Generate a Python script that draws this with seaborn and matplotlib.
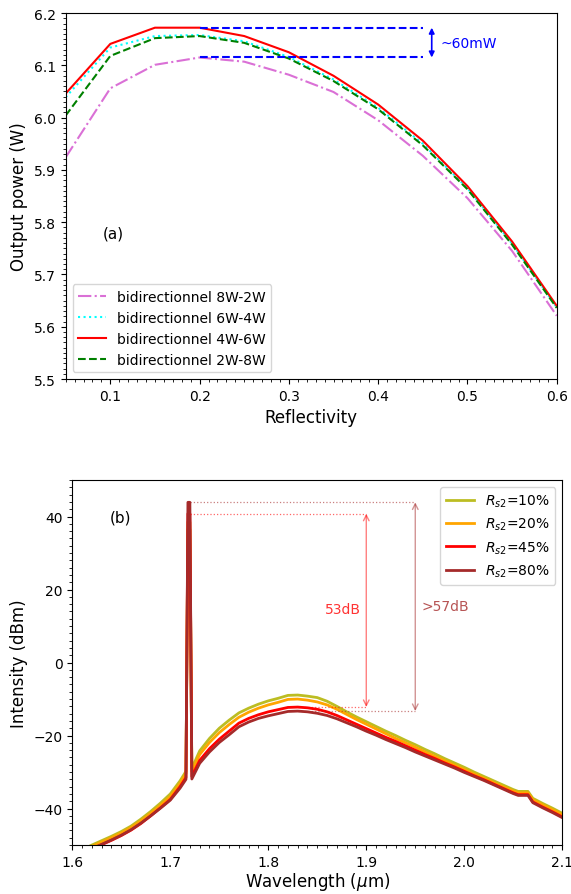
import numpy as np
import pandas as pd
import matplotlib
matplotlib.use("Agg")
import matplotlib.pyplot as plt
from matplotlib.ticker import MultipleLocator
import seaborn as sns

# ---------------- (a) output power vs reflectivity ----------------
reflectivity = [0.05, 0.10, 0.15, 0.20, 0.25, 0.30, 0.35, 0.40, 0.45, 0.50, 0.55, 0.60]
power_8w_2w = [5.924, 6.056, 6.101, 6.115, 6.107, 6.082, 6.049, 5.995, 5.927, 5.846, 5.745, 5.621]
power_6w_4w = [6.039, 6.134, 6.156, 6.158, 6.146, 6.116, 6.073, 6.019, 5.950, 5.865, 5.759, 5.637]
power_4w_6w = [6.046, 6.141, 6.172, 6.172, 6.156, 6.125, 6.080, 6.025, 5.956, 5.869, 5.763, 5.640]
power_2w_8w = [6.004, 6.118, 6.152, 6.156, 6.143, 6.113, 6.070, 6.016, 5.947, 5.863, 5.757, 5.636]
labels_a = ["bidirectionnel 8W-2W", "bidirectionnel 6W-4W",
            "bidirectionnel 4W-6W", "bidirectionnel 2W-8W"]

# ---------------- (b) optical spectra ----------------
wavelength = [1.61, 1.62, 1.63, 1.64, 1.65, 1.66, 1.67, 1.68, 1.69, 1.70, 1.71,
              1.716, 1.718, 1.720, 1.722,
              1.73, 1.74, 1.75, 1.76, 1.77, 1.78, 1.79, 1.80, 1.81, 1.82, 1.83,
              1.84, 1.85, 1.86, 1.87, 1.88, 1.89, 1.90, 1.91, 1.92, 1.93, 1.94,
              1.95, 1.96, 1.97, 1.98, 1.99, 2.00, 2.01, 2.02, 2.03, 2.04, 2.05,
              2.055, 2.065, 2.07, 2.08, 2.09, 2.10]
spec_10 = [-51.3, -50.0, -48.8, -47.6, -46.3, -44.8, -42.9, -40.8, -38.5, -36.0, -32.4,
           -29.8, 36.5, 36.5, -29.0,
           -24.2, -20.8, -18.0, -15.8, -13.8, -12.5, -11.4, -10.5, -9.8, -9.0, -8.9,
           -9.2, -9.6, -10.6, -12.0, -13.5, -14.9, -16.2, -17.5, -18.8, -20.0, -21.3,
           -22.5, -23.8, -25.0, -26.3, -27.5, -28.7, -30.0, -31.2, -32.4, -33.6, -34.8,
           -35.3, -35.3, -37.2, -38.6, -39.9, -41.3]
spec_20 = [-51.6, -50.4, -49.2, -48.0, -46.7, -45.2, -43.4, -41.3, -39.1, -36.7, -33.1,
           -30.4, 38.5, 38.5, -29.8,
           -25.2, -21.9, -19.2, -17.0, -15.0, -13.6, -12.5, -11.6, -10.9, -10.1, -10.0,
           -10.3, -10.8, -11.6, -12.8, -14.2, -15.6, -16.9, -18.2, -19.5, -20.8, -22.0,
           -23.2, -24.5, -25.7, -26.9, -28.1, -29.3, -30.5, -31.7, -32.9, -34.1, -35.2,
           -35.7, -35.7, -37.6, -39.0, -40.3, -41.7]
spec_45 = [-52.4, -51.1, -49.9, -48.7, -47.4, -45.9, -44.1, -42.0, -39.8, -37.5, -34.0,
           -31.5, 40.8, 40.8, -31.2,
           -26.8, -23.6, -21.0, -18.8, -16.6, -15.3, -14.3, -13.5, -12.9, -12.3, -12.2,
           -12.4, -12.8, -13.5, -14.5, -15.7, -16.9, -18.1, -19.3, -20.5, -21.6, -22.8,
           -24.0, -25.2, -26.3, -27.5, -28.6, -29.8, -31.0, -32.1, -33.3, -34.5, -35.7,
           -36.2, -36.2, -38.2, -39.6, -40.9, -42.3]
spec_80 = [-52.3, -51.0, -49.8, -48.6, -47.3, -45.8, -44.0, -42.0, -39.9, -37.7, -34.4,
           -32.0, 43.9, 43.9, -31.9,
           -27.6, -24.5, -21.9, -19.8, -17.6, -16.3, -15.3, -14.6, -14.0, -13.4, -13.3,
           -13.5, -13.9, -14.5, -15.4, -16.5, -17.6, -18.8, -19.9, -21.1, -22.2, -23.3,
           -24.5, -25.6, -26.7, -27.8, -28.9, -30.1, -31.2, -32.3, -33.5, -34.7, -35.9,
           -36.4, -36.4, -38.4, -39.8, -41.1, -42.5]
labels_b = [r"$R_{s2}$=10%", r"$R_{s2}$=20%", r"$R_{s2}$=45%", r"$R_{s2}$=80%"]

fig = plt.figure(figsize=(5.71, 8.95), dpi=100)
ax1 = fig.add_axes([0.115, 0.5754, 0.860, 0.4089])
ax2 = fig.add_axes([0.1266, 0.0547, 0.8581, 0.4078])

# ---- panel (a)
styles_a = [("orchid", "-."), ("cyan", ":"), ("red", "-"), ("green", "--")]
for vals, lab, (col, ls) in zip([power_8w_2w, power_6w_4w, power_4w_6w, power_2w_8w],
                                labels_a, styles_a):
    sns.lineplot(x=reflectivity, y=vals, ax=ax1, color=col, linestyle=ls,
                 lw=1.5, label=lab, estimator=None)

# spread between the best and the worst pumping configuration
top_level = max(power_4w_6w)
low_level = max(power_8w_2w)
ax1.hlines([top_level, low_level], 0.2, 0.45, colors="blue", linestyles="--", lw=1.5)
ax1.annotate("", xy=(0.46, top_level), xytext=(0.46, low_level),
             arrowprops=dict(arrowstyle="<|-|>", color="blue", lw=1.2,
                             mutation_scale=8, shrinkA=0, shrinkB=0))
ax1.text(0.47, (top_level + low_level) / 2,
         "~%dmW" % round((top_level - low_level) * 1000, -1),
         color="blue", va="center", ha="left", fontsize=10)
ax1.text(0.092, 5.78, "(a)", fontsize=11, va="center", ha="left")

ax1.set_xlim(0.05, 0.6)
ax1.set_ylim(5.5, 6.2)
ax1.xaxis.set_major_locator(MultipleLocator(0.1))
ax1.xaxis.set_minor_locator(MultipleLocator(0.01))
ax1.yaxis.set_major_locator(MultipleLocator(0.1))
ax1.yaxis.set_minor_locator(MultipleLocator(0.01))
ax1.set_xlabel("Reflectivity", fontsize=12)
ax1.set_ylabel("Output power (W)", fontsize=12)
ax1.legend(loc="lower left", fontsize=10)

# ---- panel (b)
colors_b = ["tab:olive", "orange", "red", "brown"]
for vals, lab, col in zip([spec_10, spec_20, spec_45, spec_80], labels_b, colors_b):
    sns.lineplot(x=wavelength, y=vals, ax=ax2, color=col, lw=2,
                 label=lab, estimator=None)

spike_x = 1.72
red_top, red_floor = max(spec_45), max(v for v in spec_45 if v < 0)
brn_top, brn_floor = max(spec_80), max(v for v in spec_80 if v < 0)

ax2.hlines(red_top, spike_x, 1.90, colors="red", linestyles=":", lw=0.9, alpha=0.6)
ax2.hlines(brn_top, spike_x, 1.95, colors="brown", linestyles=":", lw=0.9, alpha=0.6)
ax2.hlines(red_floor, 1.83, 1.90, colors="red", linestyles=":", lw=0.9, alpha=0.6)
ax2.hlines(brn_floor, 1.83, 1.95, colors="brown", linestyles=":", lw=0.9, alpha=0.6)
ax2.annotate("", xy=(1.90, red_top), xytext=(1.90, red_floor),
             arrowprops=dict(arrowstyle="<->", color="red", alpha=0.5, lw=1,
                             shrinkA=0, shrinkB=0))
ax2.annotate("", xy=(1.95, brn_top), xytext=(1.95, brn_floor),
             arrowprops=dict(arrowstyle="<->", color="brown", alpha=0.5, lw=1,
                             shrinkA=0, shrinkB=0))
ax2.text(1.895, 14.7, "%.0fdB" % (red_top - red_floor), color="red", alpha=0.8,
         ha="right", va="center", fontsize=10)
ax2.text(1.956, 15.6, ">%.0fdB" % (brn_top - brn_floor), color="brown", alpha=0.8,
         ha="left", va="center", fontsize=10)
ax2.text(1.638, 40, "(b)", fontsize=11, va="center", ha="left")

ax2.set_xlim(1.6, 2.1)
ax2.set_ylim(-50, 50)
ax2.xaxis.set_major_locator(MultipleLocator(0.1))
ax2.xaxis.set_minor_locator(MultipleLocator(0.01))
ax2.yaxis.set_major_locator(MultipleLocator(20))
ax2.yaxis.set_minor_locator(MultipleLocator(2))
ax2.set_xlabel(r"Wavelength ($\mu$m)", fontsize=12, labelpad=1)
ax2.set_ylabel("Intensity (dBm)", fontsize=12)
ax2.legend(loc="upper right", fontsize=10)

fig.savefig("out.png", dpi=100)
